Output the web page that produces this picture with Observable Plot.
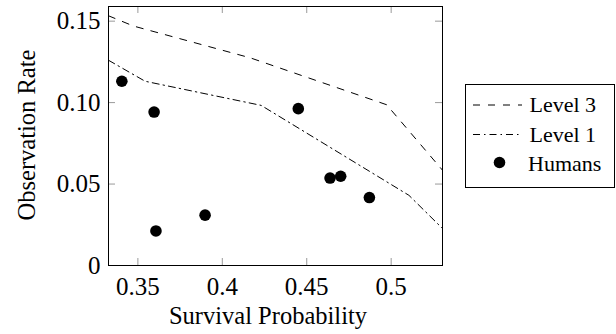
<!DOCTYPE html>
<html><head><meta charset="utf-8">
<script src="https://cdn.jsdelivr.net/npm/d3@7"></script>
<script src="https://cdn.jsdelivr.net/npm/@observablehq/plot@0.6"></script>
<style>
html,body{margin:0;padding:0;background:#fff;}
#chart{width:616px;height:334px;}
</style></head><body><div id="chart"></div>
<script>
// Human data points
const humanSurvival = [0.3405, 0.3596, 0.3607, 0.3898, 0.4450, 0.4638, 0.4701, 0.4871];
const humanRate     = [0.1131, 0.0942, 0.0212, 0.0309, 0.0963, 0.0537, 0.0548, 0.0417];
// Level 3 curve
const level3X = [0.3326, 0.3474, 0.4165, 0.4973, 0.5304];
const level3Y = [0.1533, 0.1470, 0.1275, 0.0987, 0.0585];
// Level 1 curve
const level1X = [0.3326, 0.3543, 0.4230, 0.5105, 0.5304];
const level1Y = [0.1260, 0.1131, 0.0983, 0.0431, 0.0227];
// Ticks
const xTicks = [0.35, 0.4, 0.45, 0.5];
const xTickLabels = ["0.35", "0.4", "0.45", "0.5"];
const yTicks = [0, 0.05, 0.10, 0.15];
const yTickLabels = ["0", "0.05", "0.10", "0.15"];
const seriesNames = ["Level 3", "Level 1", "Humans"];
const xLabel = "Survival Probability";
const yLabel = "Observation Rate";

const humans = humanSurvival.map((x, i) => ({x, y: humanRate[i]}));
const level3 = level3X.map((x, i) => ({x, y: level3Y[i]}));
const level1 = level1X.map((x, i) => ({x, y: level1Y[i]}));
const xLabelMap = new Map(xTicks.map((t, i) => [t, xTickLabels[i]]));
const yLabelMap = new Map(yTicks.map((t, i) => [t, yTickLabels[i]]));

const W = 616, H = 334, mL = 108, mR = 174, mT = 6, mB = 69;
const plotW = W - mL - mR, plotH = H - mT - mB;
const tickLen = 7;
const tickColor = "#9a9a9a";
const font = "'Liberation Serif', 'Times New Roman', serif";
const dash3 = "7,8";
const dash1 = "7,4,1.5,4";

const svg = Plot.plot({
  width: W, height: H,
  marginLeft: mL, marginRight: mR, marginTop: mT, marginBottom: mB,
  style: {fontFamily: font, fontSize: "24px", background: "#fff", color: "#000"},
  x: {domain: [0.3326, 0.5304], label: null},
  y: {domain: [0, 0.159], label: null},
  marks: [
    Plot.tickX(xTicks, {x: d => d, stroke: tickColor, insetTop: plotH - tickLen}),
    Plot.tickX(xTicks, {x: d => d, stroke: tickColor, insetBottom: plotH - tickLen}),
    Plot.tickY(yTicks, {y: d => d, stroke: tickColor, insetRight: plotW - tickLen}),
    Plot.tickY(yTicks, {y: d => d, stroke: tickColor, insetLeft: plotW - tickLen}),
    Plot.axisX(xTicks, {tickSize: 0, tickPadding: 12, tickFormat: d => xLabelMap.get(d), fontSize: 25, fontFamily: font, label: null}),
    Plot.axisY(yTicks, {tickSize: 0, tickPadding: 8, tickFormat: d => yLabelMap.get(d), fontSize: 25, fontFamily: font, label: null}),
    Plot.line(level3, {x: "x", y: "y", stroke: "black", strokeWidth: 1, strokeDasharray: dash3, clip: true}),
    Plot.line(level1, {x: "x", y: "y", stroke: "black", strokeWidth: 1, strokeDasharray: dash1, clip: true}),
    Plot.dot(humans, {x: "x", y: "y", r: 5.8, fill: "black", stroke: "none"}),
    Plot.frame({stroke: "black", strokeWidth: 1})
  ]
});

const s = d3.select(svg);
// Axis labels
s.append("text").attr("x", 268).attr("y", 324).attr("text-anchor", "middle")
  .attr("font-family", font).attr("font-size", 24.5).attr("fill", "black").text(xLabel);
s.append("text").attr("transform", "translate(34.5,135) rotate(-90)").attr("text-anchor", "middle")
  .attr("font-family", font).attr("font-size", 24.5).attr("fill", "black").text(yLabel);

// Legend
const lg = s.append("g");
lg.append("rect").attr("x", 465.5).attr("y", 84.5).attr("width", 149).attr("height", 103)
  .attr("fill", "white").attr("stroke", "black").attr("stroke-width", 1);
const rows = [
  {name: seriesNames[0], cy: 105, base: 112, kind: "dash3"},
  {name: seriesNames[1], cy: 134.5, base: 141.5, kind: "dash1"},
  {name: seriesNames[2], cy: 162.5, base: 170.5, kind: "dot"}
];
rows.forEach(r => {
  if (r.kind === "dot") {
    lg.append("circle").attr("cx", 499.5).attr("cy", r.cy).attr("r", 5.8).attr("fill", "black");
  } else {
    lg.append("line").attr("x1", 473).attr("x2", 522).attr("y1", r.cy).attr("y2", r.cy)
      .attr("stroke", "black").attr("stroke-width", 1)
      .attr("stroke-dasharray", r.kind === "dash3" ? dash3 : dash1);
  }
  lg.append("text").attr("x", r.kind === "dot" ? 528 : 529.5).attr("y", r.base)
    .attr("text-anchor", "start")
    .attr("font-family", font).attr("font-size", 22).attr("fill", "black").text(r.name);
});

document.getElementById("chart").appendChild(svg);
</script>
</body></html>
